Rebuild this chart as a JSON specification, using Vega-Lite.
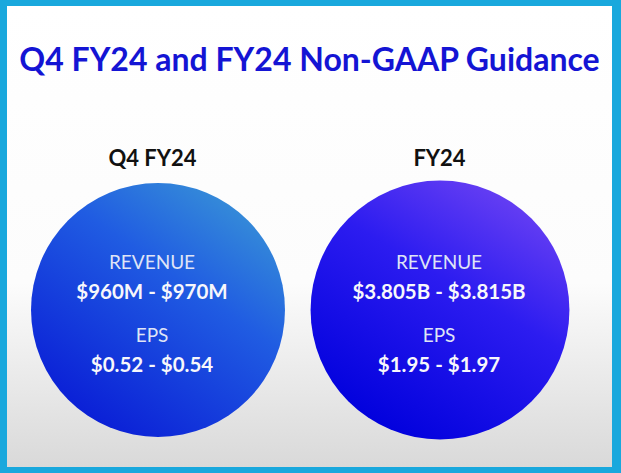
{
  "$schema": "https://vega.github.io/schema/vega-lite/v6.json",
  "autosize": {"type": "none"},
  "padding": {"left": 7, "top": 6, "right": 9, "bottom": 6},
  "width": 605,
  "height": 461,
  "background": "#19a8dd",
  "title": {
    "text": "Q4 FY24 and FY24 Non-GAAP Guidance",
    "font": "Lato",
    "fontSize": 32,
    "fontWeight": "bold",
    "color": "#1414d4",
    "anchor": "middle",
    "baseline": "alphabetic",
    "offset": -97
  },
  "data": {
    "values": [
      {"period": "Q4 FY24", "metric": "Revenue", "label": "REVENUE", "value": "$960M - $970M"},
      {"period": "Q4 FY24", "metric": "EPS", "label": "EPS", "value": "$0.52 - $0.54"},
      {"period": "FY24", "metric": "Revenue", "label": "REVENUE", "value": "$3.805B - $3.815B"},
      {"period": "FY24", "metric": "EPS", "label": "EPS", "value": "$1.95 - $1.97"}
    ]
  },
  "encoding": {
    "x": {
      "field": "period",
      "type": "nominal",
      "scale": {"type": "point", "domain": ["Q4 FY24", "FY24"], "range": [145, 432], "padding": 0},
      "axis": {
        "orient": "top",
        "title": null,
        "domain": false,
        "ticks": false,
        "labelAngle": 0,
        "labelFont": "Lato",
        "labelFontSize": 22,
        "labelFontWeight": "bold",
        "labelColor": "#111111",
        "labelBaseline": "alphabetic",
        "labelPadding": 0,
        "offset": -159
      }
    },
    "y": {
      "field": "metric",
      "type": "nominal",
      "scale": {"type": "point", "domain": ["Revenue", "EPS"], "range": [272, 345], "padding": 0},
      "axis": null
    }
  },
  "layer": [
    {
      "transform": [{"filter": "datum.period === 'Q4 FY24' && datum.metric === 'Revenue'"}],
      "mark": {
        "type": "point",
        "shape": "circle",
        "filled": true,
        "opacity": 1,
        "size": 64500,
        "yOffset": 32,
        "xOffset": 6,
        "fill": {
          "gradient": "linear", "x1": 1, "y1": 0, "x2": 0.3, "y2": 1,
          "stops": [
            {"offset": 0, "color": "#3fa2d4"},
            {"offset": 0.45, "color": "#205ce2"},
            {"offset": 1, "color": "#0a1ed6"}
          ]
        }
      }
    },
    {
      "transform": [{"filter": "datum.period === 'FY24' && datum.metric === 'Revenue'"}],
      "mark": {
        "type": "point",
        "shape": "circle",
        "filled": true,
        "opacity": 1,
        "size": 67000,
        "yOffset": 32,
        "xOffset": 1,
        "fill": {
          "gradient": "linear", "x1": 0.9, "y1": 0, "x2": 0.3, "y2": 1,
          "stops": [
            {"offset": 0, "color": "#7648f4"},
            {"offset": 0.45, "color": "#2c1cf0"},
            {"offset": 1, "color": "#0000dc"}
          ]
        }
      }
    },
    {
      "mark": {"type": "text", "font": "Lato", "fontSize": 19, "color": "#dfe4f6", "dy": -15},
      "encoding": {"text": {"field": "label"}}
    },
    {
      "mark": {"type": "text", "font": "Lato", "fontSize": 20.5, "fontWeight": "bold", "color": "#f7f7fb", "dy": 15},
      "encoding": {"text": {"field": "value"}}
    }
  ],
  "config": {
    "view": {
      "stroke": null,
      "fill": {
        "gradient": "linear", "x1": 0, "y1": 0, "x2": 0, "y2": 1,
        "stops": [
          {"offset": 0, "color": "#ffffff"},
          {"offset": 0.6, "color": "#fcfcfc"},
          {"offset": 1, "color": "#d9d9d9"}
        ]
      }
    }
  }
}
